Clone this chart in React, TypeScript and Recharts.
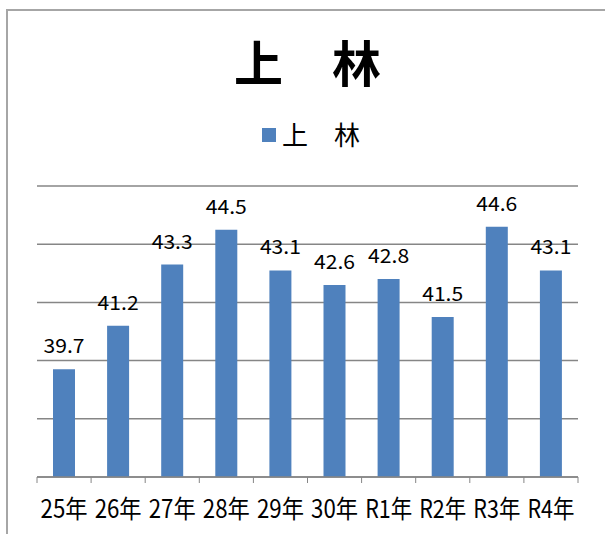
import React from 'react';
import { Bar, BarChart, CartesianGrid, LabelList, XAxis, YAxis } from 'recharts';

const years = ['25年', '26年', '27年', '28年', '29年', '30年', 'R1年', 'R2年', 'R3年', 'R4年'];
const values = [39.7, 41.2, 43.3, 44.5, 43.1, 42.6, 42.8, 41.5, 44.6, 43.1];
const yTicks = [36, 38, 40, 42, 44, 46];
const seriesName = '上　林';

const data = years.map((year, i) => ({ year, value: values[i] }));

const FONT = '"Noto Sans CJK JP", "Noto Sans", sans-serif';
const BAR_COLOR = '#4f81bd';
const LINE_COLOR = '#868686';

const YearTick = (props: any) => {
  const { x, y, payload, index, visibleTicksCount } = props;
  const band = 541 / years.length;
  const left = x - band / 2;
  const right = x + band / 2;
  return (
    <g>
      <line x1={left} y1={y - 8} x2={left} y2={y - 2} stroke={LINE_COLOR} />
      {index === (visibleTicksCount ?? years.length) - 1 && (
        <line x1={right} y1={y - 8} x2={right} y2={y - 2} stroke={LINE_COLOR} />
      )}
      <text
        x={x}
        y={y + 33}
        textAnchor="middle"
        fontFamily={FONT}
        fontSize={25}
        fill="#000"
        textLength={47}
        lengthAdjust="spacingAndGlyphs"
      >
        {payload.value}
      </text>
    </g>
  );
};

const ValueLabel = (props: any) => {
  const { x, y, width, value } = props;
  return (
    <text
      x={x + width / 2}
      y={y - 16}
      textAnchor="middle"
      fontFamily={FONT}
      fontSize={19.5}
      fill="#000"
      textLength={41}
      lengthAdjust="spacingAndGlyphs"
    >
      {value.toFixed(1)}
    </text>
  );
};

export default function App() {
  return (
    <div style={{ position: 'fixed', left: 0, top: 0, width: 605, height: 534, overflow: 'hidden', background: '#fff' }}>
      <div
        style={{
          position: 'absolute',
          left: 6,
          top: 9,
          width: 660,
          height: 600,
          border: '2px solid #a6a6a6',
          boxSizing: 'border-box',
        }}
      />
      <div
        style={{
          position: 'absolute',
          left: 234,
          top: 36,
          fontFamily: FONT,
          fontSize: 49,
          fontWeight: 700,
          lineHeight: 1,
          whiteSpace: 'nowrap',
          color: '#000',
        }}
      >
        上　林
      </div>
      <div style={{ position: 'absolute', left: 262, top: 128, width: 14, height: 14, background: BAR_COLOR }} />
      <div
        style={{
          position: 'absolute',
          left: 282,
          top: 121,
          fontFamily: FONT,
          fontSize: 26,
          lineHeight: 1,
          whiteSpace: 'nowrap',
          color: '#000',
        }}
      >
        {seriesName}
      </div>
      <div style={{ position: 'absolute', left: 0, top: 0 }}>
        <BarChart
          width={605}
          height={534}
          data={data}
          margin={{ top: 186, right: 27, bottom: 17, left: 37 }}
          barCategoryGap="30%"
        >
          <CartesianGrid vertical={false} stroke={LINE_COLOR} strokeWidth={1.5} />
          <YAxis hide domain={[36, 46]} ticks={yTicks} allowDataOverflow />
          <XAxis
            dataKey="year"
            height={40}
            interval={0}
            axisLine={{ stroke: LINE_COLOR, strokeWidth: 1.5 }}
            tickLine={false}
            tick={<YearTick />}
          />
          <Bar dataKey="value" name={seriesName} fill={BAR_COLOR} barSize={22} isAnimationActive={false}>
            <LabelList dataKey="value" content={<ValueLabel />} />
          </Bar>
        </BarChart>
      </div>
    </div>
  );
}
